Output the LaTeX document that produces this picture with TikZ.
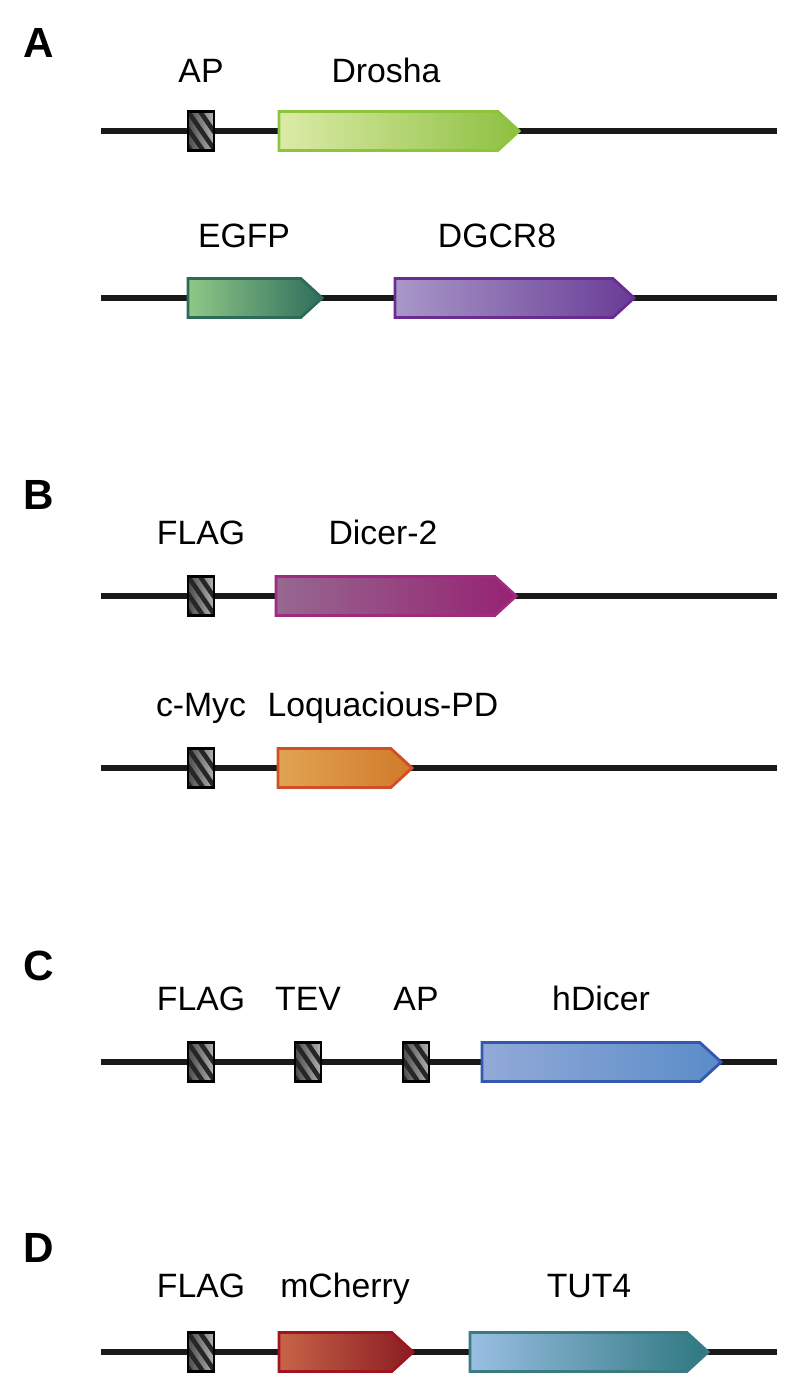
\documentclass[tikz,border=0pt]{standalone}
\usepackage{fontspec}
\setmainfont{Liberation Sans}
\usetikzlibrary{shapes.symbols}

\definecolor{droshaL}{HTML}{DCEBA8}
\definecolor{droshaR}{HTML}{8DC040}
\definecolor{droshaB}{HTML}{8CC43C}
\definecolor{egfpL}{HTML}{90C888}
\definecolor{egfpR}{HTML}{2F6E5C}
\definecolor{egfpB}{HTML}{2E6A58}
\definecolor{dgcrL}{HTML}{A898C8}
\definecolor{dgcrR}{HTML}{693C96}
\definecolor{dgcrB}{HTML}{6A2C90}
\definecolor{dicerL}{HTML}{966890}
\definecolor{dicerR}{HTML}{962272}
\definecolor{dicerB}{HTML}{A02A80}
\definecolor{loqsL}{HTML}{E0A452}
\definecolor{loqsR}{HTML}{D07A2A}
\definecolor{loqsB}{HTML}{D24E28}
\definecolor{hdicerL}{HTML}{92AAD8}
\definecolor{hdicerR}{HTML}{5A8CC8}
\definecolor{hdicerB}{HTML}{3458B0}
\definecolor{cherryL}{HTML}{C86448}
\definecolor{cherryR}{HTML}{8A1C22}
\definecolor{cherryB}{HTML}{A0161E}
\definecolor{tutL}{HTML}{9ABEE2}
\definecolor{tutR}{HTML}{2E7880}
\definecolor{tutB}{HTML}{3A7A82}

\tikzset{
    backbone/.style={line width=1.5pt, black!90},
    tagbox/.style={draw=black, line width=0.7pt, inner sep=0pt,
        minimum width=0.26cm, minimum height=0.39cm,
        left color=black!70, right color=black!30,
        path picture={
            \foreach \s in {-0.36,-0.24,...,0.2}
                \draw[line width=1.3pt, black!85]
                    ([xshift=\s cm]path picture bounding box.north west) -- ++(0.36cm,-0.52cm);
        }},
    gene/.style={signal, signal to=east, signal pointer angle=85, draw,
        line width=0.8pt, inner sep=0pt, outer sep=0pt, minimum height=0.39cm, anchor=west},
    lbl/.style={font=\fontsize{9.6}{11}\selectfont, anchor=base},
    panel/.style={font=\fontsize{12}{14}\selectfont\bfseries}
}

\begin{document}
\begin{tikzpicture}[x=0.01cm, y=-0.01cm]
    \useasboundingbox (0,0) rectangle (800,1395);

    % A: Drosha / DGCR8
    \node[panel] (pA) at (39,43) {A};
    \coordinate (a1s) at (101,131);
    \coordinate (a1e) at (777,131);
    \draw[backbone] (a1s) -- (a1e);
    \node[tagbox] (ap1) at (201,131) {};
    \node[gene, minimum width=2.4cm, left color=droshaL, right color=droshaR, draw=droshaB] (drosha) at (279,131) {};
    \node[lbl] (tap1) at (201,83) {AP};
    \node[lbl] (tdrosha) at (386,83) {Drosha};

    \coordinate (a2s) at (101,298);
    \coordinate (a2e) at (777,298);
    \draw[backbone] (a2s) -- (a2e);
    \node[gene, minimum width=1.34cm, left color=egfpL, right color=egfpR, draw=egfpB] (egfp) at (188,298) {};
    \node[gene, minimum width=2.39cm, left color=dgcrL, right color=dgcrR, draw=dgcrB] (dgcr8) at (395,298) {};
    \node[lbl] (tegfp) at (244,248) {EGFP};
    \node[lbl] (tdgcr8) at (497,248) {DGCR8};

    % B: Dicer-2 / Loquacious
    \node[panel] (pB) at (39,495) {B};
    \coordinate (b1s) at (101,596);
    \coordinate (b1e) at (777,596);
    \draw[backbone] (b1s) -- (b1e);
    \node[tagbox] (flag1) at (201,596) {};
    \node[gene, minimum width=2.4cm, left color=dicerL, right color=dicerR, draw=dicerB] (dcr2) at (276,596) {};
    \node[lbl] (tflag1) at (201,545) {FLAG};
    \node[lbl] (tdcr2) at (383,545) {Dicer-2};

    \coordinate (b2s) at (101,768);
    \coordinate (b2e) at (777,768);
    \draw[backbone] (b2s) -- (b2e);
    \node[tagbox] (myc) at (201,768) {};
    \node[gene, minimum width=1.34cm, left color=loqsL, right color=loqsR, draw=loqsB] (loqs) at (278,768) {};
    \node[lbl] (tmyc) at (201,716) {c-Myc};
    \node[lbl] (tloqs) at (383,716) {Loquacious-PD};

    % C: hDicer
    \node[panel] (pC) at (39,966) {C};
    \coordinate (cs) at (101,1062);
    \coordinate (ce) at (777,1062);
    \draw[backbone] (cs) -- (ce);
    \node[tagbox] (flag2) at (201,1062) {};
    \node[tagbox] (tev) at (308,1062) {};
    \node[tagbox] (ap2) at (416,1062) {};
    \node[gene, minimum width=2.39cm, left color=hdicerL, right color=hdicerR, draw=hdicerB] (hdicer) at (482,1062) {};
    \node[lbl] (tflag2) at (201,1010) {FLAG};
    \node[lbl] (ttev) at (308,1010) {TEV};
    \node[lbl] (tap2) at (416,1010) {AP};
    \node[lbl] (thdicer) at (601,1010) {hDicer};

    % D: TUT4
    \node[panel] (pD) at (39,1248) {D};
    \coordinate (ds) at (101,1352);
    \coordinate (de) at (777,1352);
    \draw[backbone] (ds) -- (de);
    \node[tagbox] (flag3) at (201,1352) {};
    \node[gene, minimum width=1.34cm, left color=cherryL, right color=cherryR, draw=cherryB] (cherry) at (279,1352) {};
    \node[gene, minimum width=2.38cm, left color=tutL, right color=tutR, draw=tutB] (tut4) at (470,1352) {};
    \node[lbl] (tflag3) at (201,1297) {FLAG};
    \node[lbl] (tcherry) at (345,1297) {mCherry};
    \node[lbl] (ttut4) at (589,1297) {TUT4};
\end{tikzpicture}
\end{document}
